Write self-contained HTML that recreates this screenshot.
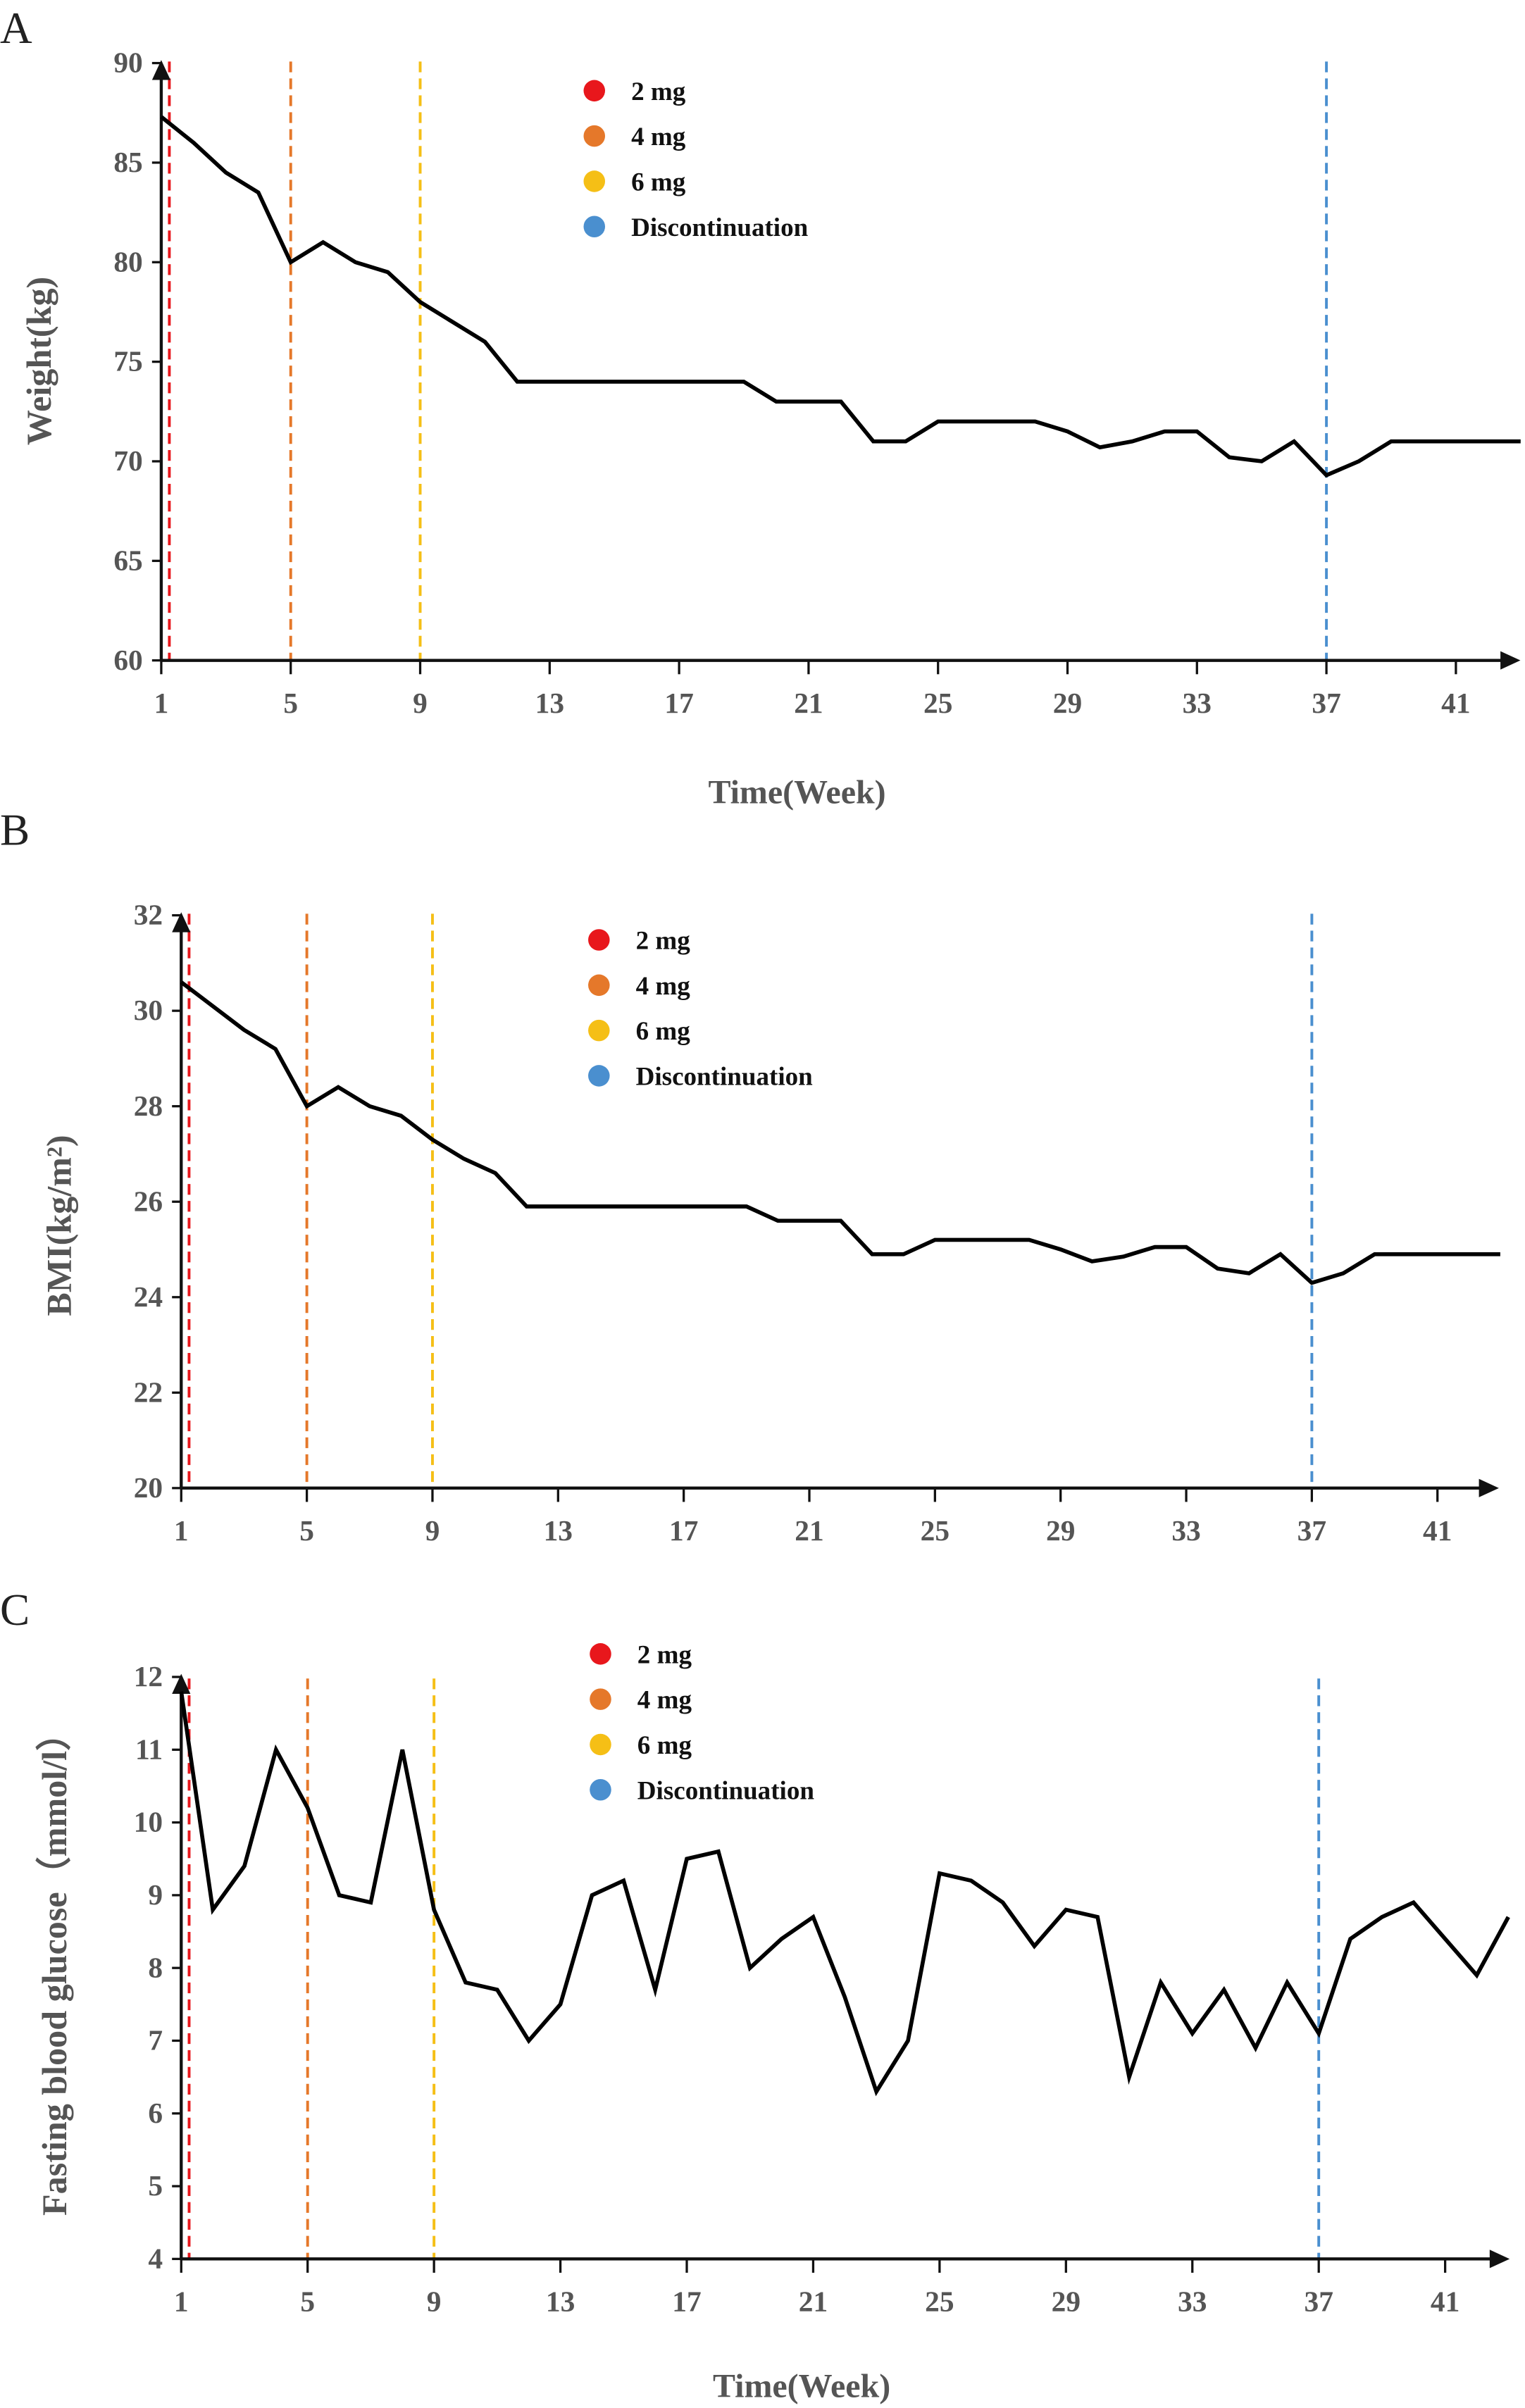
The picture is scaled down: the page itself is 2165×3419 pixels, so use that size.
<!DOCTYPE html>
<html><head><meta charset="utf-8">
<style>
html,body{margin:0;padding:0;background:#fff;}
svg{display:block;}
text{font-family:"Liberation Serif",serif;}
</style></head>
<body>
<svg id="chart" width="2165" height="3419" viewBox="0 0 993 1568" xmlns="http://www.w3.org/2000/svg">
</svg>
<script>
const weeks = [];
for (let i = 1; i <= 43; i++) weeks.push(i);
const xTicks = [1,5,9,13,17,21,25,29,33,37,41];
const weightValues = [87.3,86,84.5,83.5,80,81,80,79.5,78,77,76,74,74,74,74,74,74,74,74,73,73,73,71,71,72,72,72,72,71.5,70.7,71,71.5,71.5,70.2,70,71,69.3,70,71,71,71,71,71];
const weightTicks = [60,65,70,75,80,85,90];
const bmiValues = [30.6,30.1,29.6,29.2,28,28.4,28,27.8,27.3,26.9,26.6,25.9,25.9,25.9,25.9,25.9,25.9,25.9,25.9,25.6,25.6,25.6,24.9,24.9,25.2,25.2,25.2,25.2,25.0,24.75,24.85,25.05,25.05,24.6,24.5,24.9,24.3,24.5,24.9,24.9,24.9,24.9,24.9];
const bmiTicks = [20,22,24,26,28,30,32];
const glucoseValues = [11.8,8.8,9.4,11.0,10.2,9.0,8.9,11.0,8.8,7.8,7.7,7.0,7.5,9.0,9.2,7.7,9.5,9.6,8.0,8.4,8.7,7.6,6.3,7.0,9.3,9.2,8.9,8.3,8.8,8.7,6.5,7.8,7.1,7.7,6.9,7.8,7.1,8.4,8.7,8.9,8.4,7.9,8.7];
const glucoseTicks = [4,5,6,7,8,9,10,11,12];
const markerWeeks = [1.25,5,9,37];
const legendLabels = ["2 mg","4 mg","6 mg","Discontinuation"];
const legendColors = ["#e8171c","#e5782a","#f5bf16","#4a8fcf"];

const svg = document.getElementById('chart');
const NS = 'http://www.w3.org/2000/svg';
function mk(tag, attrs, parent){ const e=document.createElementNS(NS,tag); for(const k in attrs) e.setAttribute(k,attrs[k]); (parent||svg).appendChild(e); return e; }

const panels = [
 {key:'weight', letter:'A', ly:18, values:weightValues, ticks:weightTicks, x1:105, x41:948, xEnd:990, yTop:41, yBot:430, vmin:60, vmax:90, lgX:387, lgY:59, title:'Weight(kg)', tx:33, ty:235, xTitleX:519, xTitleY:515, markerTop:40},
 {key:'bmi', letter:'B', ly:540, values:bmiValues, ticks:bmiTicks, x1:118, x41:936, xEnd:976, yTop:596, yBot:969, vmin:20, vmax:32, lgX:390, lgY:612, title:'BMI(kg/m²)', tx:46, ty:798, xTitleY:null, markerTop:595},
 {key:'glucose', letter:'C', ly:1048, values:glucoseValues, ticks:glucoseTicks, x1:118, x41:941, xEnd:983, yTop:1092, yBot:1471, vmin:4, vmax:12, lgX:391, lgY:1077, title:'Fasting blood glucose（mmol/l）', tx:43, ty:1280, xTitleX:522, xTitleY:1553, markerTop:1093}
];

panels.forEach(p=>{
  const g = mk('g',{});
  
  
  const xs = w => p.x1 + (w-1)*(p.x41-p.x1)/40;
  const ys = v => p.yBot - (v-p.vmin)*(p.yBot-p.yTop)/(p.vmax-p.vmin);
  const L = mk('text',{x:0,y:p.ly+10,'font-size':29,fill:'#222'},g); L.textContent=p.letter;
  
  
  markerWeeks.forEach((w,i)=>{
    const l = mk('line',{x1:xs(w),x2:xs(w),y1:p.markerTop,y2:p.yBot,stroke:legendColors[i],'stroke-width':1.8,'stroke-dasharray':'7,4'},g);
    
    
  });
  const ax = mk('line',{x1:p.x1,x2:p.xEnd-8,y1:p.yBot,y2:p.yBot,stroke:'#111','stroke-width':2},g);
   
  mk('polygon',{points:`${p.xEnd},${p.yBot} ${p.xEnd-13},${p.yBot-6} ${p.xEnd-13},${p.yBot+6}`,fill:'#111'},g);
  const ay = mk('line',{x1:p.x1,x2:p.x1,y1:p.yBot,y2:p.yTop+8,stroke:'#111','stroke-width':2},g);
   
  mk('polygon',{points:`${p.x1},${p.yTop-2} ${p.x1-6},${p.yTop+11} ${p.x1+6},${p.yTop+11}`,fill:'#111'},g);
  xTicks.forEach(t=>{
    mk('line',{x1:xs(t),x2:xs(t),y1:p.yBot,y2:p.yBot+9,stroke:'#111','stroke-width':1.5},g);
    const tx = mk('text',{x:xs(t),y:p.yBot+34,'font-size':19,'font-weight':'bold',fill:'#555','text-anchor':'middle'},g);
    tx.textContent=t;
     
  });
  p.ticks.forEach(t=>{
    mk('line',{x1:p.x1-6,x2:p.x1,y1:ys(t),y2:ys(t),stroke:'#111','stroke-width':1.5},g);
    const ty = mk('text',{x:p.x1-12,y:ys(t)+6,'font-size':19,'font-weight':'bold',fill:'#555','text-anchor':'end'},g);
    ty.textContent=t;
     
  });
  const pts = p.values.map((v,i)=>xs(weeks[i]).toFixed(2)+','+ys(v).toFixed(2)).join(' ');
  const pl = mk('polyline',{points:pts,fill:'none',stroke:'#000','stroke-width':2.6,'stroke-linejoin':'miter'},g);
  
  
  legendLabels.forEach((lab,i)=>{
    const cy = p.lgY + i*29.5;
    const c = mk('circle',{cx:p.lgX,cy:cy,r:7,fill:legendColors[i]},g);
     
    const t = mk('text',{x:p.lgX+24,y:cy+6,'font-size':17,'font-weight':'bold',fill:'#111'},g);
    t.textContent=lab;
     
  });
  const yt = mk('text',{x:p.tx,y:p.ty,'font-size':23,'font-weight':'bold',fill:'#555','text-anchor':'middle',transform:`rotate(-90 ${p.tx} ${p.ty})`},g);
  yt.setAttribute('font-family','"Liberation Serif","Noto Serif CJK SC",serif');
  yt.textContent=p.title;
   
  if(p.xTitleY){
    const xt = mk('text',{x:p.xTitleX,y:p.xTitleY+8,'font-size':22,'font-weight':'bold',fill:'#555','text-anchor':'middle'},g);
    xt.textContent='Time(Week)';
     
  }
});
</script>
</body></html>
